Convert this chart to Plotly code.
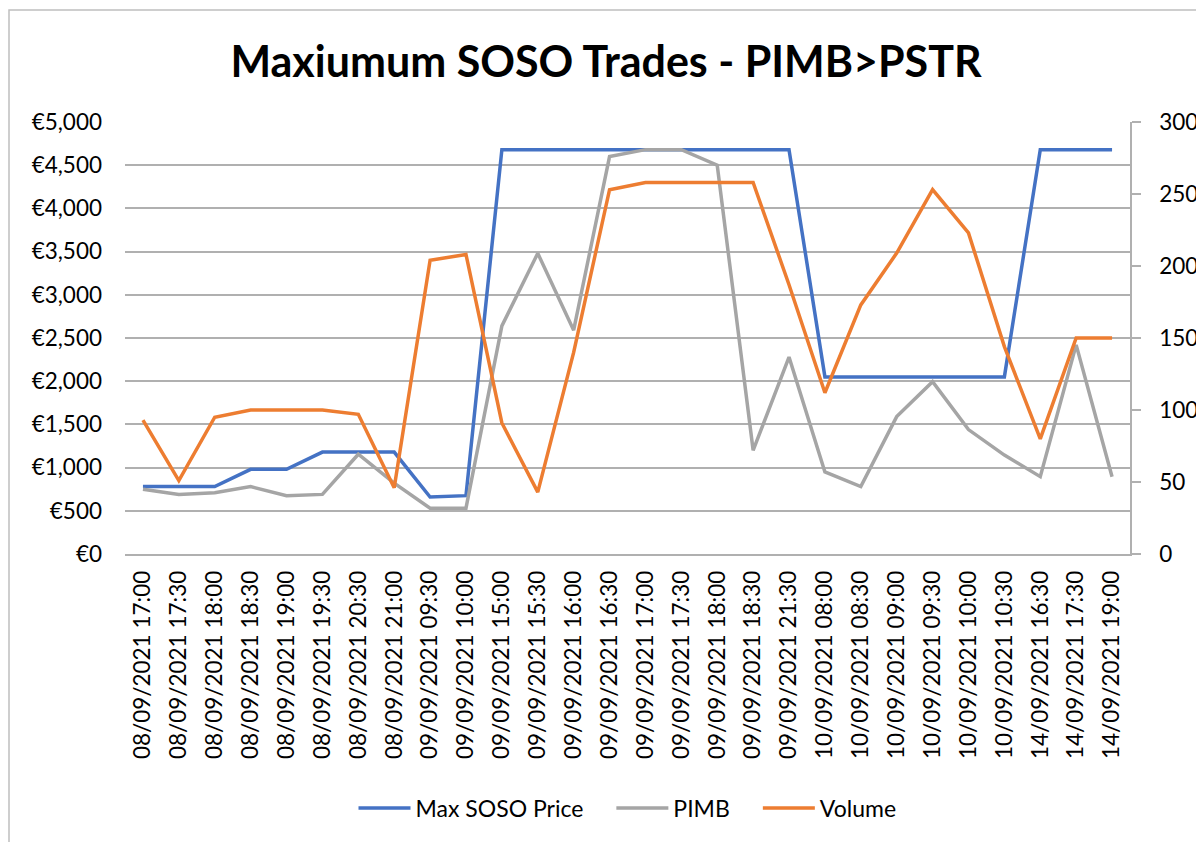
import plotly.graph_objects as go

categories = [
    "08/09/2021 17:00", "08/09/2021 17:30", "08/09/2021 18:00", "08/09/2021 18:30",
    "08/09/2021 19:00", "08/09/2021 19:30", "08/09/2021 20:30", "08/09/2021 21:00",
    "09/09/2021 09:30", "09/09/2021 10:00", "09/09/2021 15:00", "09/09/2021 15:30",
    "09/09/2021 16:00", "09/09/2021 16:30", "09/09/2021 17:00", "09/09/2021 17:30",
    "09/09/2021 18:00", "09/09/2021 18:30", "09/09/2021 21:30", "10/09/2021 08:00",
    "10/09/2021 08:30", "10/09/2021 09:00", "10/09/2021 09:30", "10/09/2021 10:00",
    "10/09/2021 10:30", "14/09/2021 16:30", "14/09/2021 17:30", "14/09/2021 19:00",
]
max_soso_price = [780, 780, 780, 980, 980, 1180, 1180, 1180, 660, 675, 4680, 4680, 4680, 4680,
                  4680, 4680, 4680, 4680, 4680, 2050, 2050, 2050, 2050, 2050, 2050, 4680, 4680, 4680]
pimb = [750, 690, 710, 780, 675, 690, 1155, 820, 530, 530, 2640, 3480, 2590, 4600,
        4680, 4680, 4500, 1200, 2280, 950, 780, 1590, 1995, 1440, 1145, 895, 2420, 895]
volume = [93, 51, 95, 100, 100, 100, 97, 46, 204, 208, 91, 43, 140, 253,
          258, 258, 258, 258, 187, 112, 173, 209, 253, 223, 144, 80, 150, 150]

FONT = "Lato"
GRID = "#b0b0b0"
W, H = 1196, 834          # page body has an 8px margin
L, R, T, B = 117, 74, 114, 288
PW, PH = W - L - R, H - T - B
PLOT_BOTTOM = H - B
GAP = "\u2002\u2002"      # extra spacing between legend entries

fig = go.Figure()
fig.add_trace(go.Scatter(x=categories, y=max_soso_price, name="Max SOSO Price" + GAP, mode="lines",
                         line=dict(color="#4472C4", width=3.5)))
fig.add_trace(go.Scatter(x=categories, y=pimb, name="PIMB" + GAP, mode="lines",
                         line=dict(color="#A5A5A5", width=3.5)))
fig.add_trace(go.Scatter(x=categories, y=volume, name="Volume", mode="lines", yaxis="y2",
                         line=dict(color="#ED7D31", width=3.5)))

fig.update_layout(
    width=W, height=H,
    margin=dict(l=L, r=R, t=T, b=B, pad=0),
    paper_bgcolor="white", plot_bgcolor="white",
    font=dict(family=FONT, size=22.5, color="#000000"),
    title=dict(text="<b>Maxiumum SOSO Trades - PIMB>PSTR</b>", x=0.5, xanchor="center",
               y=1 - 54 / H, yanchor="middle", yref="container",
               font=dict(family=FONT, size=43, color="#000000")),
    xaxis=dict(type="category", range=[-0.5, 27.5], tickangle=-90, showgrid=False,
               showline=True, linecolor=GRID, linewidth=1.5, ticks="",
               tickfont=dict(size=22.5), ticklabelstandoff=6, automargin=False),
    yaxis=dict(range=[0, 5000], dtick=500, tickprefix="€", tickformat=",",
               showgrid=True, gridcolor=GRID, gridwidth=1.5, zeroline=False,
               showline=False, ticks="", tickfont=dict(size=22.5), ticklabelstandoff=22,
               automargin=False),
    yaxis2=dict(range=[0, 300], dtick=50, overlaying="y", side="right", showgrid=False,
                zeroline=False, showline=True, linecolor=GRID, linewidth=1.5,
                ticks="outside", ticklen=9, tickcolor=GRID, tickwidth=1.5,
                tickfont=dict(size=22.5), ticklabelstandoff=14, automargin=False),
    legend=dict(orientation="h", x=0.5, xanchor="center", y=1 - 800 / H, yref="container",
                yanchor="middle", font=dict(size=23), itemwidth=52, bgcolor="rgba(0,0,0,0)"),
    shapes=[dict(type="rect", xref="paper", yref="paper",
                 x0=(1 - L) / PW, x1=(1210 - L) / PW,
                 y0=(PLOT_BOTTOM - 870) / PH, y1=(PLOT_BOTTOM - 2) / PH,
                 line=dict(color="#bfbfbf", width=1.5), fillcolor="rgba(0,0,0,0)", layer="below")],
)

fig.write_html("out.html")
